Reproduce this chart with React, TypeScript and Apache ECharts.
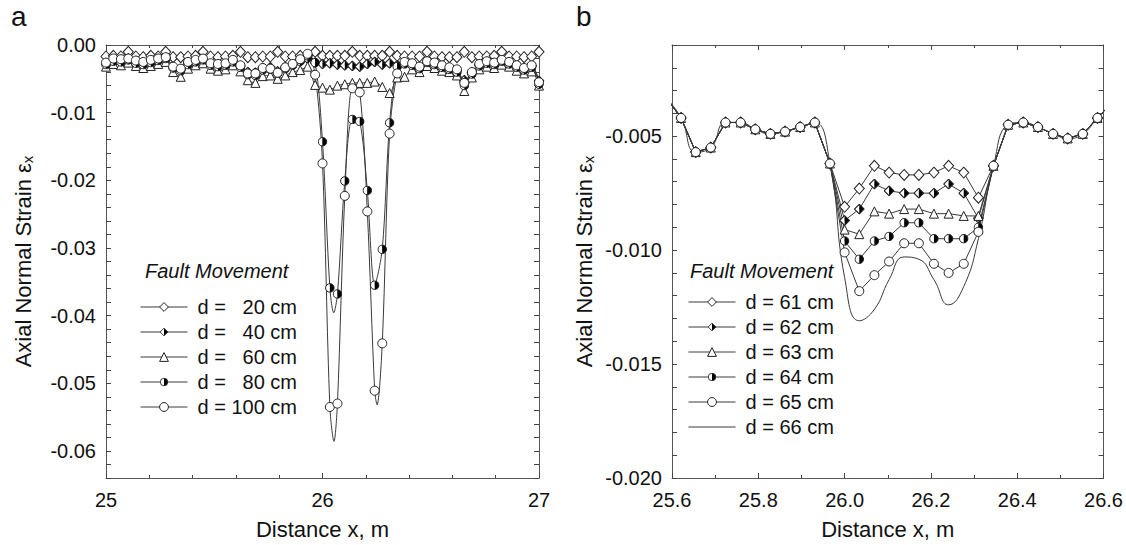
import React, { useEffect, useRef } from "react";
import * as echarts from "echarts";

const FONT = "'Liberation Sans', Arial, Helvetica, sans-serif";

// ---------- Panel a : nodes (m) ----------
const xA = [25.000, 25.034, 25.069, 25.103, 25.138, 25.172, 25.207, 25.241, 25.276, 25.310, 25.345, 25.379, 25.414, 25.448, 25.483, 25.517, 25.552, 25.586, 25.621, 25.655, 25.690, 25.724, 25.759, 25.793, 25.828, 25.862, 25.897, 25.931, 25.966, 26.000, 26.034, 26.069, 26.103, 26.138, 26.172, 26.207, 26.241, 26.276, 26.310, 26.345, 26.379, 26.414, 26.448, 26.483, 26.517, 26.552, 26.586, 26.621, 26.655, 26.690, 26.724, 26.759, 26.793, 26.828, 26.862, 26.897, 26.931, 26.966, 27.000];

const a20 = [-0.0017, -0.0016, -0.0017, -0.0010, -0.0017, -0.0018, -0.0016, -0.0017, -0.0010, -0.0018, -0.0018, -0.0017, -0.0016, -0.0010, -0.0017, -0.0018, -0.0017, -0.0016, -0.0010, -0.0018, -0.0018, -0.0017, -0.0017, -0.0010, -0.0017, -0.0017, -0.0016, -0.0016, -0.0010, -0.0016, -0.0016, -0.0016, -0.0016, -0.0010, -0.0016, -0.0016, -0.0016, -0.0016, -0.0010, -0.0016, -0.0017, -0.0017, -0.0017, -0.0010, -0.0017, -0.0018, -0.0018, -0.0018, -0.0010, -0.0018, -0.0017, -0.0017, -0.0016, -0.0010, -0.0017, -0.0017, -0.0018, -0.0017, -0.0010];
const a40 = [-0.0028, -0.0023, -0.0024, -0.0020, -0.0026, -0.0028, -0.0025, -0.0022, -0.0019, -0.0033, -0.0036, -0.0027, -0.0024, -0.0021, -0.0029, -0.0030, -0.0029, -0.0024, -0.0031, -0.0040, -0.0041, -0.0034, -0.0033, -0.0039, -0.0033, -0.0029, -0.0024, -0.0020, -0.0026, -0.0028, -0.0027, -0.0029, -0.0030, -0.0031, -0.0032, -0.0028, -0.0025, -0.0029, -0.0027, -0.0030, -0.0026, -0.0028, -0.0033, -0.0025, -0.0027, -0.0031, -0.0034, -0.0037, -0.0052, -0.0041, -0.0029, -0.0025, -0.0027, -0.0023, -0.0026, -0.0031, -0.0035, -0.0031, -0.0053];
const a60 = [-0.0032, -0.0028, -0.0030, -0.0026, -0.0031, -0.0034, -0.0031, -0.0028, -0.0025, -0.0040, -0.0047, -0.0035, -0.0030, -0.0027, -0.0035, -0.0038, -0.0036, -0.0030, -0.0039, -0.0052, -0.0056, -0.0046, -0.0045, -0.0050, -0.0045, -0.0040, -0.0037, -0.0032, -0.0059, -0.0063, -0.0066, -0.0060, -0.0058, -0.0056, -0.0056, -0.0056, -0.0054, -0.0062, -0.0071, -0.0048, -0.0047, -0.0036, -0.0040, -0.0031, -0.0034, -0.0038, -0.0040, -0.0045, -0.0068, -0.0048, -0.0036, -0.0032, -0.0034, -0.0029, -0.0032, -0.0038, -0.0042, -0.0039, -0.0060];
const a80 = [-0.0029, -0.0024, -0.0025, -0.0022, -0.0027, -0.0029, -0.0026, -0.0023, -0.0020, -0.0034, -0.0038, -0.0029, -0.0025, -0.0022, -0.0030, -0.0032, -0.0030, -0.0025, -0.0033, -0.0044, -0.0045, -0.0037, -0.0036, -0.0042, -0.0035, -0.0030, -0.0024, -0.0016, -0.0026, -0.0143, -0.0359, -0.0368, -0.0201, -0.0110, -0.0113, -0.0215, -0.0355, -0.0302, -0.0115, -0.0032, -0.0028, -0.0030, -0.0035, -0.0026, -0.0029, -0.0033, -0.0036, -0.0040, -0.0060, -0.0043, -0.0031, -0.0027, -0.0029, -0.0024, -0.0028, -0.0033, -0.0037, -0.0033, -0.0058];
const a100 = [-0.0026, -0.0020, -0.0021, -0.0020, -0.0023, -0.0025, -0.0022, -0.0020, -0.0018, -0.0032, -0.0035, -0.0025, -0.0022, -0.0020, -0.0027, -0.0028, -0.0027, -0.0022, -0.0030, -0.0042, -0.0042, -0.0034, -0.0035, -0.0041, -0.0033, -0.0028, -0.0021, -0.0013, -0.0044, -0.0175, -0.0535, -0.0530, -0.0223, -0.0064, -0.0070, -0.0246, -0.0511, -0.0441, -0.0131, -0.0042, -0.0025, -0.0027, -0.0032, -0.0024, -0.0026, -0.0030, -0.0033, -0.0036, -0.0056, -0.0040, -0.0028, -0.0024, -0.0026, -0.0022, -0.0025, -0.0030, -0.0034, -0.0030, -0.0055];
// curve vertices read between nodes (deepest points of the drawn curves)
const a80Curve = [[26.052, -0.0396]];
const a100Curve = [[26.053, -0.0586], [26.252, -0.0532]];

const namesA = ["d = \u00a0\u00a020 cm", "d = \u00a0\u00a040 cm", "d = \u00a0\u00a060 cm", "d = \u00a0\u00a080 cm", "d = 100 cm"];
const yTicksA = [0, -0.01, -0.02, -0.03, -0.04, -0.05, -0.06];

// ---------- Panel b ----------
const xB = [25.586, 25.621, 25.655, 25.690, 25.724, 25.759, 25.793, 25.828, 25.862, 25.897, 25.931, 25.966, 26.000, 26.034, 26.069, 26.103, 26.138, 26.172, 26.207, 26.241, 26.276, 26.310, 26.345, 26.379, 26.414, 26.448, 26.483, 26.517, 26.552, 26.586, 26.621];
const bLeft = [-0.0033, -0.0042, -0.0057, -0.0055, -0.0044, -0.0044, -0.0047, -0.0049, -0.0048, -0.0046, -0.0044, -0.0062];
const bRight = [-0.0063, -0.0045, -0.0044, -0.0046, -0.0049, -0.0051, -0.0049, -0.0042, -0.0035];
const b61 = [-0.0081, -0.0073, -0.0063, -0.0066, -0.0067, -0.0067, -0.0066, -0.0063, -0.0066, -0.0077];
const b62 = [-0.0087, -0.0082, -0.0071, -0.0074, -0.0075, -0.0075, -0.0075, -0.0071, -0.0075, -0.0086];
const b63 = [-0.0091, -0.0093, -0.0083, -0.0084, -0.0082, -0.0082, -0.0084, -0.0084, -0.0085, -0.0085];
const b64 = [-0.0096, -0.0104, -0.0096, -0.0094, -0.0088, -0.0088, -0.0095, -0.0095, -0.0095, -0.0090];
const b65 = [-0.0101, -0.0118, -0.0111, -0.0105, -0.0097, -0.0097, -0.0106, -0.0110, -0.0106, -0.0092];
const b66 = [-0.0112, -0.0131, -0.0126, -0.0113, -0.0103, -0.0104, -0.0113, -0.0124, -0.0116, -0.0095];
const namesB = ["d = 61 cm", "d = 62 cm", "d = 63 cm", "d = 64 cm", "d = 65 cm", "d = 66 cm"];
const yTicksB = [-0.005, -0.010, -0.015, -0.020];

// ---------- marker symbols ----------
const svgUri = (s: string) => "image://data:image/svg+xml;charset=utf-8," + encodeURIComponent(s);
const HALF_CIRCLE = svgUri(
  '<svg xmlns="http://www.w3.org/2000/svg" width="20" height="20" viewBox="0 0 20 20">' +
    '<path d="M10 1.5 A8.5 8.5 0 0 0 10 18.5 Z" fill="#ffffff"/>' +
    '<path d="M10 1.5 A8.5 8.5 0 0 1 10 18.5 Z" fill="#000000"/>' +
    '<circle cx="10" cy="10" r="8.5" fill="none" stroke="#222222" stroke-width="2"/></svg>'
);
const HALF_DIAMOND = svgUri(
  '<svg xmlns="http://www.w3.org/2000/svg" width="20" height="20" viewBox="0 0 20 20">' +
    '<path d="M10 1.2 L1.2 10 L10 18.8 Z" fill="#ffffff"/>' +
    '<path d="M10 1.2 L18.8 10 L10 18.8 Z" fill="#000000"/>' +
    '<path d="M10 1.2 L18.8 10 L10 18.8 L1.2 10 Z" fill="none" stroke="#222222" stroke-width="2"/></svg>'
);

const LINE = "#3a3a3a";
const markerStyle = { color: "#ffffff", borderColor: "#222222", borderWidth: 1 };

function nodes(xs: number[], ys: number[], extra: number[][] = []) {
  const pts: any[] = xs.map((x, i) => ({ value: [x, ys[i]] }));
  extra.forEach(([x, y]) => pts.push({ value: [x, y], symbol: "none" }));
  pts.sort((p, q) => p.value[0] - q.value[0]);
  return pts;
}

function lineSeries(name: string, data: any[], axis: number, symbol: string, size: any, smooth: any) {
  return {
    type: "line",
    name,
    data,
    xAxisIndex: axis,
    yAxisIndex: axis,
    symbol,
    symbolSize: size,
    showAllSymbol: true,
    smooth,
    clip: true,
    lineStyle: { color: LINE, width: 1 },
    itemStyle: markerStyle,
    emphasis: { disabled: true },
  };
}

function boxAxes(grid: number, opt: any) {
  const axisLine = { show: true, onZero: false, lineStyle: { color: "#555", width: 1 } };
  const tick = { show: true, inside: true, length: 5, lineStyle: { color: "#444" } };
  const label = { color: "#111", fontSize: 20, fontFamily: FONT };
  const xBase = {
    type: "value", gridIndex: grid, min: opt.xmin, max: opt.xmax, interval: opt.xint,
    axisLine, axisTick: tick, splitLine: { show: false },
    minorTick: { show: true, splitNumber: opt.xminor, length: 3, lineStyle: { color: "#444" } },
  };
  const yBase = {
    type: "value", gridIndex: grid, min: opt.ymin, max: opt.ymax, interval: opt.yint,
    axisLine, axisTick: tick, splitLine: { show: false },
  };
  const xs = [
    {
      ...xBase, position: "bottom",
      axisLabel: { ...label, margin: 12, formatter: opt.xfmt },
      name: "Distance x, m", nameLocation: "middle", nameGap: 40,
      nameTextStyle: { fontSize: 22, fontFamily: FONT, color: "#111" },
    },
    { ...xBase, position: "top", axisLabel: { show: false } },
  ];
  const ys = [
    {
      ...yBase, position: "left",
      axisLabel: { ...label, margin: 10, customValues: opt.ylabels, formatter: opt.yfmt },
      name: "Axial Normal Strain \u03b5{s|x}", nameLocation: "middle", nameRotate: 90, nameGap: opt.ygap,
      nameTextStyle: {
        fontSize: 22, fontFamily: FONT, color: "#111",
        rich: { s: { fontSize: 15, fontFamily: FONT, color: "#111", verticalAlign: "bottom", padding: [9, 0, 0, 0] } },
      },
    },
    { ...yBase, position: "right", axisLabel: { show: false } },
  ];
  return { xs, ys };
}

export default function App() {
  const ref = useRef<HTMLDivElement>(null);
  useEffect(() => {
    if (!ref.current) return;
    const chart = echarts.init(ref.current, undefined, { renderer: "svg" });

    const axA = boxAxes(0, {
      xmin: 25, xmax: 27, xint: 1, xminor: 5, xfmt: (v: number) => String(v),
      ymin: -0.064, ymax: 0, yint: 0.002, ylabels: yTicksA, yfmt: (v: number) => (v === 0 ? "0.00" : v.toFixed(2)), ygap: 71,
    });
    const axB = boxAxes(1, {
      xmin: 25.6, xmax: 26.6, xint: 0.2, xminor: 2, xfmt: (v: number) => v.toFixed(1),
      ymin: -0.02, ymax: -0.001, yint: 0.001, ylabels: yTicksB, yfmt: (v: number) => v.toFixed(3), ygap: 76,
    });

    const seriesA = [
      lineSeries(namesA[0], nodes(xA, a20), 0, "diamond", [10, 11], 0.3),
      lineSeries(namesA[1], nodes(xA, a40), 0, HALF_DIAMOND, 11, 0.3),
      lineSeries(namesA[2], nodes(xA, a60), 0, "triangle", 9, 0.3),
      lineSeries(namesA[3], nodes(xA, a80, a80Curve), 0, HALF_CIRCLE, 10, 0.3),
      lineSeries(namesA[4], nodes(xA, a100, a100Curve), 0, "circle", 9, 0.3),
    ];
    const full = (t: number[]) => [...bLeft, ...t, ...bRight];
    const seriesB = [
      lineSeries(namesB[0], nodes(xB, full(b61)), 2, "diamond", [10, 11], false),
      lineSeries(namesB[1], nodes(xB, full(b62)), 2, HALF_DIAMOND, 11, false),
      lineSeries(namesB[2], nodes(xB, full(b63)), 2, "triangle", 9, false),
      lineSeries(namesB[3], nodes(xB, full(b64)), 2, HALF_CIRCLE, 10, false),
      lineSeries(namesB[4], nodes(xB, full(b65)), 2, "circle", 9, false),
      lineSeries(namesB[5], nodes(xB, full(b66)), 2, "none", 0, 0.5),
    ];

    const legendBase = {
      orient: "vertical", itemWidth: 47, itemHeight: 11, itemGap: 5, selectedMode: false, padding: 0,
      lineStyle: { width: 1 },
      itemStyle: { borderWidth: 1 },
      textStyle: { fontSize: 20, fontFamily: FONT, color: "#111", lineHeight: 20, padding: [0, 0, 0, 5] },
    };
    const legendB = namesB.map((n, i) => (i === namesB.length - 1 ? { name: n, itemStyle: { opacity: 0 } } : n));

    chart.setOption({
      animation: false,
      backgroundColor: "#ffffff",
      grid: [
        { left: 106, top: 45, width: 433, height: 433 },
        { left: 672, top: 45, width: 433, height: 433 },
      ],
      xAxis: [...axA.xs, ...axB.xs],
      yAxis: [...axA.ys, ...axB.ys],
      legend: [
        { ...legendBase, data: namesA, left: 140, top: 297 },
        { ...legendBase, data: legendB, left: 688, top: 292 },
      ],
      graphic: [
        { type: "text", left: 11, top: 2, style: { text: "a", fontSize: 28, fontFamily: FONT, fill: "#111" } },
        { type: "text", left: 576, top: 2, style: { text: "b", fontSize: 28, fontFamily: FONT, fill: "#111" } },
        { type: "text", left: 145, top: 261, style: { text: "Fault Movement", fontSize: 20, fontStyle: "italic", fontFamily: FONT, fill: "#111" } },
        { type: "text", left: 690, top: 261, style: { text: "Fault Movement", fontSize: 20, fontStyle: "italic", fontFamily: FONT, fill: "#111" } },
      ],
      series: [...seriesA, ...seriesB],
    });
    return () => chart.dispose();
  }, []);
  return <div ref={ref} style={{ position: "fixed", left: 0, top: 0, width: 1126, height: 545, background: "#fff" }} />;
}
